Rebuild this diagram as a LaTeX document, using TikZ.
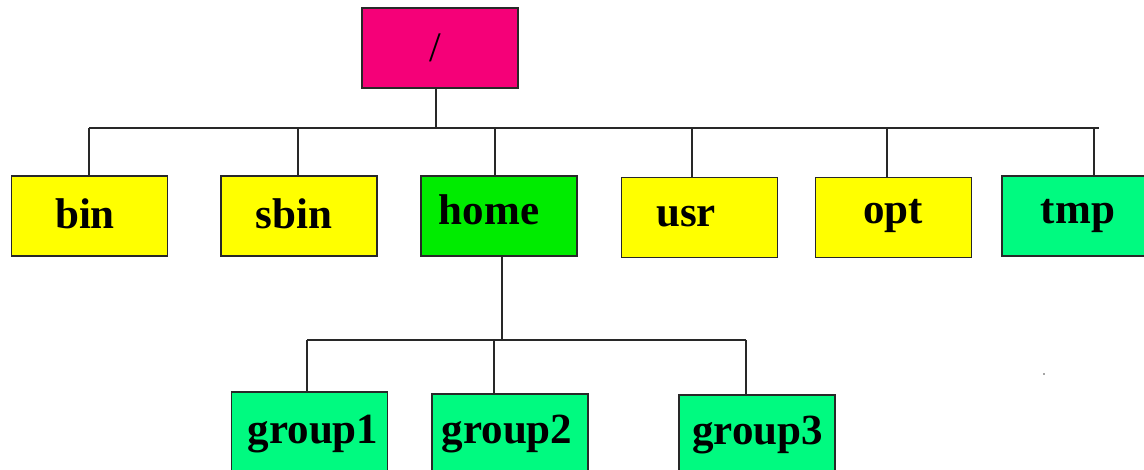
\documentclass[tikz,border=0pt]{standalone}
\usepackage{fontspec}
\setmainfont{Liberation Serif}
\definecolor{rootc}{RGB}{245,0,120}
\definecolor{yel}{RGB}{255,255,0}
\definecolor{homec}{RGB}{0,236,0}
\definecolor{seac}{RGB}{0,250,128}
\definecolor{edge}{RGB}{40,40,40}
\tikzset{
  box/.style={draw=edge, line width=1.3pt, rectangle, minimum width=156pt, minimum height=80pt, inner sep=0pt},
  txt/.style={anchor=base, inner sep=0pt, font=\fontsize{43}{50}\selectfont\bfseries, text=black},
  conn/.style={draw=edge, line width=1.4pt}
}
\begin{document}
\begin{tikzpicture}[x=1pt, y=-1pt]
\useasboundingbox (0,0) rectangle (1144,470);
\clip (0,0) rectangle (1144,470);
\fill[white] (0,0) rectangle (1144,470);

% boxes
\node[box, fill=rootc] (root) at (440,48) {};
\node[box, fill=yel] (bin) at (89.5,216) {};
\node[box, fill=yel] (sbin) at (299,216) {};
\node[box, fill=homec] (home) at (499,216) {};
\node[box, fill=yel] (usr) at (699.5,217.5) {};
\node[box, fill=yel] (opt) at (893.5,217.5) {};
\node[box, fill=seac] (tmp) at (1080,216) {};
\node[box, fill=seac] (group1) at (309.5,432) {};
\node[box, fill=seac] (group2) at (510,434) {};
\node[box, fill=seac] (group3) at (757,435) {};

% texts
\node[anchor=center, inner sep=0pt, font=\fontsize{42}{50}\selectfont] (rootT) at (435,48) {/};
\node[txt] (binT) at (85,229) {bin};
\node[txt] (sbinT) at (294,229) {sbin};
\node[txt] (homeT) at (489,225) {home};
\node[txt] (usrT) at (686,227) {usr};
\node[txt] (optT) at (893,224) {opt};
\node[txt] (tmpT) at (1078,224) {tmp};
\node[txt] (group1T) at (313,443) {group1};
\node[txt] (group2T) at (507,443) {group2};
\node[txt] (group3T) at (757.5,444) {group3};

% first level bus
\coordinate (busL) at (89,128);
\coordinate (busR) at (1099,128);
\coordinate (rj) at (436,128);
\coordinate (j1) at (89,128);
\coordinate (j2) at (298,128);
\coordinate (j3) at (495,128);
\coordinate (j4) at (692,128);
\coordinate (j5) at (887,128);
\coordinate (j6) at (1094,128);
\draw[conn] (busL) -- (busR);
\draw[conn] (rj |- root.south) -- (rj);
\draw[conn] (j1) -- (j1 |- bin.north);
\draw[conn] (j2) -- (j2 |- sbin.north);
\draw[conn] (j3) -- (j3 |- home.north);
\draw[conn] (j4) -- (j4 |- usr.north);
\draw[conn] (j5) -- (j5 |- opt.north);
\draw[conn] (j6) -- (j6 |- tmp.north);

% second level bus
\coordinate (hj) at (502,340);
\coordinate (k1) at (307,340);
\coordinate (k2) at (494,340);
\coordinate (k3) at (746,340);
\draw[conn] (hj |- home.south) -- (hj);
\draw[conn] (k1) -- (k3);
\draw[conn] (k1) -- (k1 |- group1.north);
\draw[conn] (k2) -- (k2 |- group2.north);
\draw[conn] (k3) -- (k3 |- group3.north);

% stray dot
\fill[gray!70] (1042.5,373) rectangle (1045,375.5);
\end{tikzpicture}
\end{document}
